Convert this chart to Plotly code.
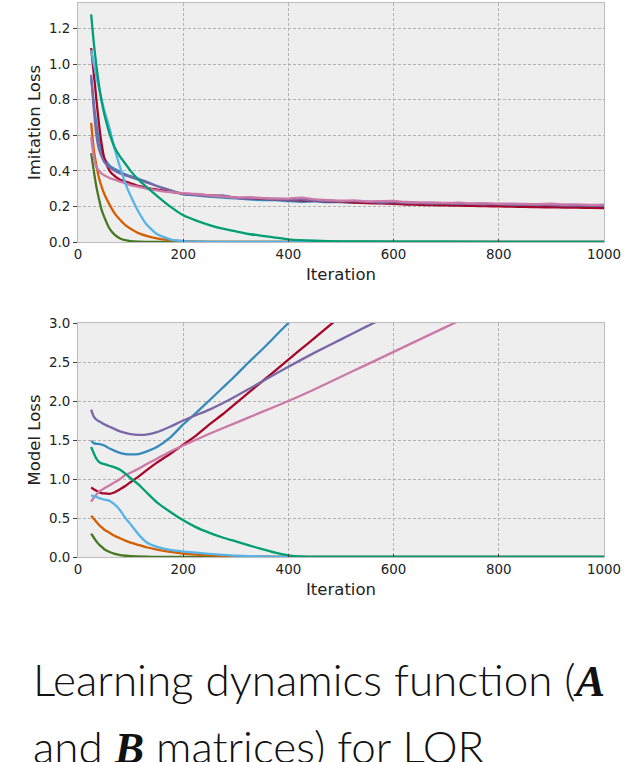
import plotly.graph_objects as go

# ---------------- data ----------------
colors = ["#348ABD", "#A60628", "#7A68A6", "#467821", "#D55E00", "#CC79A7", "#56B4E9", "#009E73"]

it_early = [25, 30, 35, 40, 45, 50, 60, 70, 80, 90, 100, 115, 130, 150, 175]
it_late = [200, 225, 250, 275, 300, 325, 350, 375, 400, 425, 450, 475, 500, 525, 550, 575,
           600, 625, 650, 675, 700, 725, 750, 775, 800, 825, 850, 875, 900, 925, 950, 975, 1000]
it_full = it_early + it_late

# Imitation loss - noisy cluster (blue, red, purple, pink)
imit_blue = [0.92, 0.78, 0.66, 0.57, 0.51, 0.47, 0.43, 0.41, 0.395, 0.38, 0.37, 0.355, 0.34, 0.315, 0.29,
             0.268, 0.262, 0.255, 0.250, 0.245, 0.240, 0.236, 0.235, 0.230, 0.226, 0.228, 0.224, 0.224, 0.222,
             0.221, 0.219, 0.218, 0.216, 0.218, 0.213, 0.215, 0.212, 0.211, 0.210, 0.206, 0.208, 0.205, 0.206,
             0.203, 0.204, 0.202, 0.203, 0.201]
imit_red = [1.09, 0.95, 0.80, 0.66, 0.55, 0.47, 0.40, 0.37, 0.35, 0.34, 0.33, 0.315, 0.305, 0.295, 0.283,
            0.272, 0.268, 0.262, 0.258, 0.250, 0.246, 0.243, 0.240, 0.236, 0.234, 0.232, 0.229, 0.226, 0.222,
            0.219, 0.217, 0.214, 0.211, 0.209, 0.207, 0.206, 0.204, 0.203, 0.202, 0.200, 0.199, 0.197, 0.196,
            0.195, 0.194, 0.193, 0.192, 0.190]
imit_purple = [0.94, 0.75, 0.60, 0.52, 0.48, 0.45, 0.42, 0.40, 0.385, 0.375, 0.365, 0.35, 0.335, 0.315, 0.292,
               0.270, 0.265, 0.258, 0.262, 0.248, 0.244, 0.246, 0.240, 0.238, 0.240, 0.233, 0.231, 0.229, 0.230,
               0.226, 0.222, 0.225, 0.220, 0.219, 0.216, 0.218, 0.214, 0.215, 0.212, 0.213, 0.209, 0.211, 0.208,
               0.209, 0.206, 0.207, 0.205, 0.204]
imit_pink = [0.59, 0.48, 0.42, 0.40, 0.385, 0.375, 0.36, 0.35, 0.34, 0.33, 0.32, 0.31, 0.30, 0.29, 0.28,
             0.275, 0.270, 0.262, 0.255, 0.250, 0.252, 0.247, 0.245, 0.244, 0.250, 0.240, 0.236, 0.232, 0.234,
             0.228, 0.230, 0.231, 0.225, 0.223, 0.222, 0.220, 0.221, 0.217, 0.219, 0.215, 0.216, 0.214, 0.213,
             0.215, 0.211, 0.212, 0.209, 0.210]

# Imitation loss - converging series
imit_green_x = [25, 30, 35, 40, 45, 50, 60, 70, 80, 90, 100, 115, 130, 150, 1000]
imit_green = [0.50, 0.40, 0.31, 0.24, 0.18, 0.14, 0.075, 0.04, 0.02, 0.01, 0.005, 0.002, 0.001, 0.0, 0.0]
imit_orange_x = [25, 30, 35, 40, 45, 50, 60, 70, 80, 90, 100, 115, 130, 150, 175, 200, 225, 250, 1000]
imit_orange = [0.67, 0.52, 0.43, 0.36, 0.31, 0.27, 0.21, 0.16, 0.125, 0.095, 0.075, 0.05, 0.035, 0.02, 0.01,
               0.005, 0.002, 0.001, 0.0]
imit_lblue_x = [25, 30, 35, 40, 45, 50, 60, 70, 80, 90, 100, 115, 130, 150, 175, 200, 225, 250, 1000]
imit_lblue = [1.08, 1.00, 0.93, 0.86, 0.80, 0.74, 0.64, 0.52, 0.42, 0.33, 0.26, 0.17, 0.10, 0.045, 0.015,
              0.005, 0.002, 0.001, 0.0]
imit_teal_x = [25, 30, 35, 40, 45, 50, 60, 70, 80, 90, 100, 115, 130, 150, 175, 200, 225, 250, 275, 300,
               325, 350, 375, 400, 450, 500, 600, 800, 1000]
imit_teal = [1.28, 1.12, 0.99, 0.88, 0.79, 0.72, 0.61, 0.53, 0.48, 0.44, 0.40, 0.35, 0.31, 0.26, 0.20, 0.15,
             0.12, 0.095, 0.075, 0.06, 0.045, 0.035, 0.025, 0.015, 0.007, 0.004, 0.002, 0.001, 0.001]

# Model loss
mod_blue_x = [25, 30, 35, 40, 45, 50, 60, 70, 80, 90, 100, 115, 130, 150, 175, 200, 225, 250, 275, 300,
              325, 350, 375, 400, 425]
mod_blue = [1.49, 1.46, 1.45, 1.45, 1.44, 1.43, 1.39, 1.36, 1.335, 1.32, 1.315, 1.32, 1.35, 1.41, 1.53, 1.70,
            1.85, 2.01, 2.17, 2.33, 2.50, 2.66, 2.83, 3.0, 3.16]
mod_red_x = [25, 30, 35, 40, 45, 50, 60, 70, 80, 90, 100, 115, 130, 150, 175, 200, 225, 250, 275, 300,
             325, 350, 375, 400, 425, 450, 475, 500]
mod_red = [0.89, 0.87, 0.85, 0.83, 0.82, 0.815, 0.81, 0.83, 0.87, 0.91, 0.96, 1.03, 1.11, 1.21, 1.32, 1.44,
           1.56, 1.70, 1.83, 1.97, 2.11, 2.25, 2.39, 2.53, 2.67, 2.81, 2.95, 3.09]
mod_purple_x = [25, 30, 35, 40, 45, 50, 60, 70, 80, 90, 100, 115, 130, 150, 175, 200, 225, 250, 275, 300,
                350, 400, 450, 500, 550, 600]
mod_purple = [1.89, 1.80, 1.76, 1.74, 1.72, 1.70, 1.67, 1.64, 1.61, 1.59, 1.575, 1.565, 1.57, 1.60, 1.67,
              1.75, 1.82, 1.89, 1.97, 2.06, 2.25, 2.44, 2.62, 2.79, 2.96, 3.12]
mod_green_x = [25, 30, 35, 40, 45, 50, 60, 70, 80, 90, 100, 130, 150, 200, 1000]
mod_green = [0.30, 0.25, 0.20, 0.16, 0.13, 0.10, 0.065, 0.04, 0.025, 0.016, 0.01, 0.004, 0.002, 0.0, 0.0]
mod_orange_x = [25, 30, 35, 40, 45, 50, 60, 70, 80, 90, 100, 115, 130, 150, 175, 200, 225, 250, 300, 350,
                400, 1000]
mod_orange = [0.53, 0.49, 0.45, 0.41, 0.38, 0.35, 0.31, 0.27, 0.24, 0.21, 0.185, 0.155, 0.125, 0.095, 0.065,
              0.045, 0.03, 0.02, 0.008, 0.003, 0.0, 0.0]
mod_pink_x = [25, 30, 35, 40, 45, 50, 60, 70, 80, 90, 100, 115, 130, 150, 175, 200, 250, 300, 350, 400,
              450, 500, 550, 600, 650, 700, 750]
mod_pink = [0.71, 0.76, 0.80, 0.84, 0.86, 0.88, 0.92, 0.96, 1.00, 1.05, 1.08, 1.13, 1.19, 1.26, 1.35, 1.43,
            1.58, 1.72, 1.86, 2.0, 2.15, 2.31, 2.47, 2.63, 2.79, 2.95, 3.11]
mod_lblue_x = [25, 30, 35, 40, 45, 50, 60, 70, 80, 90, 100, 115, 130, 150, 175, 200, 225, 250, 275, 300,
               350, 400, 450, 1000]
mod_lblue = [0.79, 0.78, 0.77, 0.755, 0.745, 0.735, 0.72, 0.67, 0.60, 0.50, 0.42, 0.29, 0.19, 0.13, 0.09,
             0.07, 0.055, 0.04, 0.028, 0.018, 0.007, 0.002, 0.0, 0.0]
mod_teal_x = [25, 30, 35, 40, 45, 50, 60, 70, 80, 90, 100, 115, 130, 150, 175, 200, 225, 250, 275, 300,
              325, 350, 375, 400, 425, 450, 500, 1000]
mod_teal = [1.41, 1.33, 1.26, 1.22, 1.20, 1.19, 1.17, 1.15, 1.12, 1.07, 1.01, 0.93, 0.83, 0.70, 0.58, 0.47,
            0.38, 0.31, 0.25, 0.20, 0.15, 0.10, 0.055, 0.02, 0.005, 0.002, 0.0, 0.0]

x_ticks = [0, 200, 400, 600, 800, 1000]
imit_ticks = [0.0, 0.2, 0.4, 0.6, 0.8, 1.0, 1.2]
model_ticks = [0.0, 0.5, 1.0, 1.5, 2.0, 2.5, 3.0]

# ---------------- figure ----------------
W, H = 624, 762
fig = go.Figure()

top = [
    (it_full, imit_blue, colors[0]),
    (it_full, imit_red, colors[1]),
    (it_full, imit_purple, colors[2]),
    (imit_green_x, imit_green, colors[3]),
    (imit_orange_x, imit_orange, colors[4]),
    (it_full, imit_pink, colors[5]),
    (imit_lblue_x, imit_lblue, colors[6]),
    (imit_teal_x, imit_teal, colors[7]),
]
for xs, ys, c in top:
    fig.add_trace(go.Scatter(x=xs, y=ys, mode="lines",
                             line=dict(color=c, width=2.3, shape="spline", smoothing=0.5),
                             xaxis="x", yaxis="y", showlegend=False, hoverinfo="skip"))

bottom = [
    (mod_blue_x, mod_blue, colors[0]),
    (mod_red_x, mod_red, colors[1]),
    (mod_purple_x, mod_purple, colors[2]),
    (mod_green_x, mod_green, colors[3]),
    (mod_orange_x, mod_orange, colors[4]),
    (mod_pink_x, mod_pink, colors[5]),
    (mod_lblue_x, mod_lblue, colors[6]),
    (mod_teal_x, mod_teal, colors[7]),
]
for xs, ys, c in bottom:
    fig.add_trace(go.Scatter(x=xs, y=ys, mode="lines",
                             line=dict(color=c, width=2.3, shape="spline", smoothing=0.6),
                             xaxis="x2", yaxis="y2", showlegend=False, hoverinfo="skip"))

# plot box: x 78..604 px, top panel 3..242 px, bottom panel 323..557 px
ML, MR, MT, MB = 78, W - 604, 3, H - 557
PH = H - MT - MB
PW = W - ML - MR
top_dom = [1 - (242 - MT) / PH, 1.0]
bot_dom = [0.0, 1 - (323 - MT) / PH]

tickfont = dict(family="DejaVu Sans", size=13.4, color="#222")
titlefont = dict(family="DejaVu Sans", size=16.5, color="#222")

common_x = dict(range=[0, 1000], tickvals=x_ticks, ticktext=[str(t) for t in x_ticks],
                showgrid=True, gridcolor="#b2b2b2", griddash="3px,2px", gridwidth=0.8,
                zeroline=False, showline=True, linecolor="#bcbcbc", linewidth=1.2, mirror=True,
                ticks="inside", ticklen=3, tickcolor="#444", tickfont=tickfont, automargin=False,
                title=dict(text="Iteration", font=titlefont, standoff=7))
common_y = dict(showgrid=True, gridcolor="#b2b2b2", griddash="3px,2px", gridwidth=0.8,
                zeroline=False, showline=True, linecolor="#bcbcbc", linewidth=1.2, mirror=True,
                ticks="outside", ticklen=4, tickcolor="#444", tickfont=tickfont, automargin=False)

fig.update_layout(
    width=W, height=H,
    margin=dict(l=ML, r=MR, t=MT, b=MB, autoexpand=False),
    paper_bgcolor="white", plot_bgcolor="#eeeeee",
    xaxis=dict(domain=[0, 1], anchor="y", **common_x),
    yaxis=dict(domain=top_dom, anchor="x", range=[0, 1.344], tickvals=imit_ticks,
               ticktext=["%.1f" % t for t in imit_ticks],
               title=dict(text="Imitation Loss", font=titlefont, standoff=4), **common_y),
    xaxis2=dict(domain=[0, 1], anchor="y2", **common_x),
    yaxis2=dict(domain=bot_dom, anchor="x2", range=[0, 3.0], tickvals=model_ticks,
                ticktext=["%.1f" % t for t in model_ticks],
                title=dict(text="Model Loss", font=titlefont, standoff=4), **common_y),
)

serif = "<span style=\"font-family:'Liberation Serif'\"><b><i>%s</i></b></span>"
capfont = dict(family="Lato Light, Lato", size=44, color="#111", weight=300)
fig.add_annotation(text="Learning dynamics function (" + serif % "A",
                   xref="paper", yref="paper", x=(31 - ML) / PW, y=1 - (679 - MT) / PH,
                   xanchor="left", yanchor="middle", showarrow=False, font=capfont)
fig.add_annotation(text="and " + serif % "B" + " matrices) for LQR",
                   xref="paper", yref="paper", x=(31 - ML) / PW, y=1 - (746 - MT) / PH,
                   xanchor="left", yanchor="middle", showarrow=False, font=capfont)

fig.write_html("out.html")
